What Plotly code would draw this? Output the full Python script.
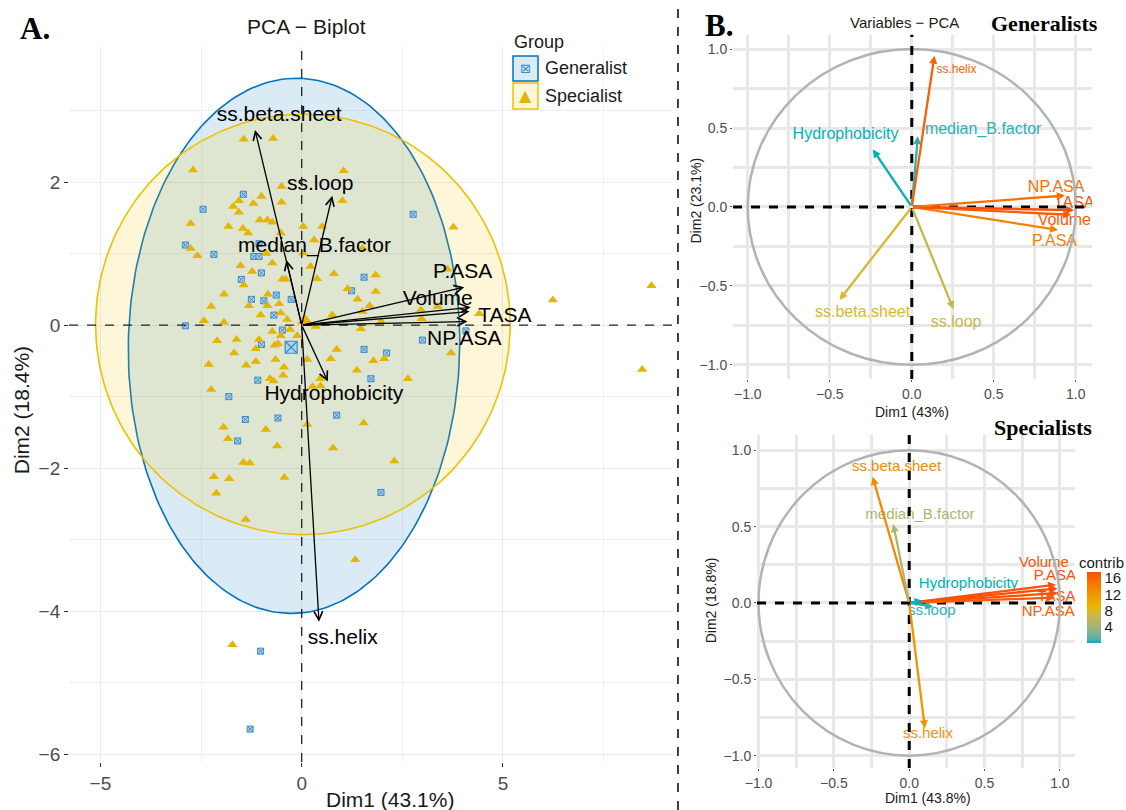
import numpy as np
import plotly.graph_objects as go

# ---------------- Panel A : individuals ----------------
spec_x = [-1.44, -0.71, -2.70, -1.00, -0.50, -1.56, -1.20, -0.50, -1.70, -1.56, -1.04, -0.85, -0.73, -2.76,
          -1.82, -1.46, -1.33, -0.52, 0.04, -2.76, -2.59, -0.88, -0.73, -1.52,
          1.04, 1.01, 3.77, 0.51, 0.31, 0.04, 1.51, 0.22, 3.62,
          -1.23, -1.44, -0.48, -0.40, -1.93, -0.84, -0.56, -2.25, -1.31, -0.85, -0.52, -1.02, -2.43, -1.93,
          -0.36, -0.73, -0.29, -0.11, -0.52, -2.10, -1.62, -1.06, -0.67, -0.59, -1.14, -1.68, -0.65, -2.31,
          -1.38, -1.14, -0.44, -0.46, -0.79, -0.70, -2.25,
          0.38, 0.80, 1.84, 1.14, 1.84, 1.39, 1.69, 1.51, 0.76, 1.97, 2.96, 2.98, 3.38, 4.41, 1.47, 0.35,
          3.71, 0.87, 0.72, 0.14, 2.05, 1.78, 1.37, 2.64, 0.46, 0.27, 0.47,
          -1.94, -0.89, 0.14, 1.54, -1.83, -0.61, 0.78, -1.45, -1.29, 2.30, -2.18, -1.80, -0.43, -2.12,
          -1.39, 1.33, -1.72,
          8.69, 6.24, 8.46]
spec_y = [2.60, 2.61, 2.17, 1.80, 1.94, 1.74, 1.70, 1.72, 1.66, 1.58, 1.47, 1.47, 1.44, 1.42,
          1.38, 1.35, 1.29, 1.29, 1.38, 1.07, 0.97, 1.00, 0.87, 0.83,
          2.16, 1.74, 1.37, 1.38, 1.19, 1.01, 1.07, 0.82, 0.78,
          0.75, 0.56, 0.64, 0.64, 0.43, 0.43, 0.30, 0.26, 0.27, 0.27, 0.17, 0.14, 0.06, 0.04,
          0.08, -0.09, -0.06, -0.15, -0.15, -0.22, -0.20, -0.20, -0.28, -0.26, -0.33, -0.39, -0.48, -0.55,
          -0.56, -0.51, -0.59, -0.70, -0.75, -0.78, -0.90,
          0.65, 0.72, 0.70, 0.51, 0.47, 0.36, 0.27, 0.19, 0.14, 0.05, 0.21, 0.09, 0.26, 0.16, -0.05, -0.02,
          -0.39, -0.34, -0.47, -0.48, -0.47, -0.50, -0.63, -0.75, -0.75, -0.86, -0.85,
          -1.43, -1.46, -1.39, -1.37, -1.59, -1.69, -1.72, -1.92, -1.93, -1.90, -2.12, -2.15, -2.13, -2.35,
          -2.72, -3.28, -4.47,
          0.55, 0.35, -0.62]

gen_x = [-1.45, -2.45, -2.89, -2.18, -1.06, -1.19, -1.06, 2.77, -1.00, -1.50, -0.63, -1.25, -0.94, -0.26,
         -0.69, -2.89, -0.48, -1.00, -1.09, -1.81, 1.55, 1.24, 4.08, 3.00, 1.55, 2.11, 1.72, 0.87,
         -1.40, -0.59, -1.59, 1.97, -1.02, -1.28]
gen_y = [1.83, 1.62, 1.12, 0.99, 1.14, 0.96, 0.96, 1.55, 0.73, 0.64, 0.42, 0.36, 0.34, 0.36,
         0.14, -0.01, -0.07, -0.27, -0.77, -1.00, 0.67, 0.48, -0.08, -0.21, -0.34, -0.39, -0.75, -1.26,
         -1.32, -1.30, -1.62, -2.34, -4.56, -5.65]

group_names = ["Generalist", "Specialist"]
mean_x = [-0.26, 0.08]
mean_y = [-0.31, 0.06]

# confidence ellipses (centre, semi-axes, rotation in degrees)
ell_cx = [-0.19, 0.03]
ell_cy = [-0.29, 0.01]
ell_rx = [4.12, 5.15]
ell_ry = [3.74, 2.94]
ell_rot = [4.6, 0.0]

var_names = ["P.ASA", "Volume", "TASA", "NP.ASA", "ss.beta.sheet", "ss.loop",
             "median_B.factor", "Hydrophobicity", "ss.helix"]
bi_x = [4.04, 4.20, 4.17, 4.12, -1.16, 0.76, -0.38, 0.65, 0.43]
bi_y = [0.53, 0.25, 0.19, 0.05, 2.73, 1.81, 0.91, -0.79, -4.15]
bi_lab_x = [4.00, 3.38, 5.05, 4.04, -0.56, 0.46, 0.32, 0.80, 1.02]
bi_lab_y = [0.73, 0.36, 0.12, -0.21, 2.93, 1.96, 1.09, -0.98, -4.39]

# ---------------- Panel B : variables ----------------
gen_var_x = [0.892, 0.972, 0.990, 0.933, -0.441, 0.254, 0.037, -0.238, 0.138]
gen_var_y = [-0.146, -0.050, -0.020, 0.072, -0.589, -0.648, 0.449, 0.364, 0.958]
gen_lab_x = [0.87, 0.93, 0.99, 0.88, -0.30, 0.27, 0.435, -0.404, 0.272]
gen_lab_y = [-0.22, -0.09, 0.02, 0.12, -0.674, -0.733, 0.487, 0.453, 0.869]

spe_var_x = [0.985, 0.975, 0.985, 0.965, -0.243, 0.160, -0.106, 0.090, 0.104]
spe_var_y = [0.095, 0.120, 0.065, 0.035, 0.826, -0.025, 0.517, 0.015, -0.820]
spe_lab_x = [0.967, 0.894, 0.978, 0.923, -0.084, 0.150, 0.071, 0.393, 0.124]
spe_lab_y = [0.176, 0.262, 0.037, -0.063, 0.887, -0.057, 0.572, 0.124, -0.863]

contrib_ticks = [4, 8, 12, 16]

GRAD = ["#00AFBB", "#E7B800", "#FC4E07"]
BLUE, YELLOW = "#0073C2", "#EFC000"
SANS = "Liberation Sans, Arial, sans-serif"
SERIF = "Liberation Serif, Times New Roman, serif"


# ---- colour helpers: gradient interpolated in CIE Lab (like ggplot2) ----
def _hex2rgb(h):
    h = h.lstrip("#")
    return np.array([int(h[i:i + 2], 16) for i in (0, 2, 4)]) / 255.0


def _rgb2lab(c):
    c = np.where(c > 0.04045, ((c + 0.055) / 1.055) ** 2.4, c / 12.92)
    M = np.array([[0.4124, 0.3576, 0.1805], [0.2126, 0.7152, 0.0722], [0.0193, 0.1192, 0.9505]])
    xyz = M @ c / np.array([0.95047, 1.0, 1.08883])
    f = np.where(xyz > 0.008856, np.cbrt(xyz), 7.787 * xyz + 16 / 116)
    return np.array([116 * f[1] - 16, 500 * (f[0] - f[1]), 200 * (f[1] - f[2])])


def _lab2hex(lab):
    fy = (lab[0] + 16) / 116
    fx = fy + lab[1] / 500
    fz = fy - lab[2] / 200
    f = np.array([fx, fy, fz])
    xyz = np.where(f ** 3 > 0.008856, f ** 3, (f - 16 / 116) / 7.787) * np.array([0.95047, 1.0, 1.08883])
    Mi = np.array([[3.2406, -1.5372, -0.4986], [-0.9689, 1.8758, 0.0415], [0.0557, -0.2040, 1.0570]])
    c = Mi @ xyz
    c = np.where(c > 0.0031308, 1.055 * np.clip(c, 0, None) ** (1 / 2.4) - 0.055, 12.92 * c)
    c = np.clip(np.round(c * 255), 0, 255).astype(int)
    return "#%02X%02X%02X" % tuple(c)


_LABS = [_rgb2lab(_hex2rgb(h)) for h in GRAD]


def grad_colour(f):
    f = min(max(f, 0.0), 1.0)
    if f <= 0.5:
        a, b, u = _LABS[0], _LABS[1], f / 0.5
    else:
        a, b, u = _LABS[1], _LABS[2], (f - 0.5) / 0.5
    return _lab2hex(a + (b - a) * u)


CSCALE = [[float(s), grad_colour(s)] for s in np.linspace(0, 1, 21)]


def contrib(xs, ys):
    sq = np.array(xs) ** 2 + np.array(ys) ** 2
    return 100 * sq / sq.sum()


def colours(c):
    lo, hi = c.min(), c.max()
    return [grad_colour((v - lo) / (hi - lo)) for v in c]


fig = go.Figure()

# ellipses
t = np.linspace(0, 2 * np.pi, 241)
for i, (col, fill) in enumerate([(BLUE, "rgba(0,115,194,0.14)"), (YELLOW, "rgba(239,192,0,0.15)")]):
    th = np.deg2rad(ell_rot[i])
    ex = ell_cx[i] + ell_rx[i] * np.cos(t) * np.cos(th) - ell_ry[i] * np.sin(t) * np.sin(th)
    ey = ell_cy[i] + ell_rx[i] * np.cos(t) * np.sin(th) + ell_ry[i] * np.sin(t) * np.cos(th)
    fig.add_trace(go.Scatter(x=ex, y=ey, mode="lines", fill="toself", fillcolor=fill,
                             line=dict(color=col, width=1.6), hoverinfo="skip", showlegend=False,
                             xaxis="x", yaxis="y"))

fig.add_trace(go.Scatter(x=gen_x, y=gen_y, mode="markers", name="Generalist", showlegend=False,
                         marker=dict(symbol="square-x", size=6, color="#B5D3EC",
                                     line=dict(color="#3A8BC9", width=1)), xaxis="x", yaxis="y"))
fig.add_trace(go.Scatter(x=spec_x, y=spec_y, mode="markers", name="Specialist", showlegend=False,
                         marker=dict(symbol="triangle-up", size=9, color="#E3B505"), xaxis="x", yaxis="y"))
fig.add_trace(go.Scatter(x=[mean_x[0]], y=[mean_y[0]], mode="markers", showlegend=False,
                         marker=dict(symbol="square-x", size=12, color="#B5D3EC",
                                     line=dict(color="#3A8BC9", width=1.2)), xaxis="x", yaxis="y"))
fig.add_trace(go.Scatter(x=[mean_x[1]], y=[mean_y[1]], mode="markers", showlegend=False,
                         marker=dict(symbol="triangle-up", size=14, color="#E3B505"), xaxis="x", yaxis="y"))
fig.add_trace(go.Scatter(x=bi_lab_x, y=bi_lab_y, text=var_names, mode="text", showlegend=False,
                         textfont=dict(family=SANS, size=21, color="black"), xaxis="x", yaxis="y"))

annotations = []
for xe, ye in zip(bi_x, bi_y):
    annotations.append(dict(x=xe, y=ye, ax=0, ay=0, xref="x", yref="y", axref="x", ayref="y",
                            showarrow=True, arrowhead=5, arrowsize=1.3, arrowwidth=1.3,
                            arrowcolor="black", text=""))

# Panel B generalists
gc = contrib(gen_var_x, gen_var_y)
gcol = colours(gc)
fig.add_trace(go.Scatter(x=gen_lab_x, y=gen_lab_y, text=var_names, mode="text", showlegend=False,
                         textfont=dict(family=SANS, size=[16, 16, 16, 16, 16, 16, 16, 16, 12], color=gcol),
                         xaxis="x2", yaxis="y2"))
for xe, ye, c in zip(gen_var_x, gen_var_y, gcol):
    annotations.append(dict(x=xe, y=ye, ax=0, ay=0, xref="x2", yref="y2", axref="x2", ayref="y2",
                            showarrow=True, arrowhead=2, arrowsize=0.7, arrowwidth=2.3,
                            arrowcolor=c, text=""))

# Panel B specialists
sc = contrib(spe_var_x, spe_var_y)
scol = colours(sc)
fig.add_trace(go.Scatter(x=spe_lab_x, y=spe_lab_y, text=var_names, mode="text", showlegend=False,
                         textfont=dict(family=SANS, size=15, color=scol), xaxis="x3", yaxis="y3"))
for xe, ye, c in zip(spe_var_x, spe_var_y, scol):
    annotations.append(dict(x=xe, y=ye, ax=0, ay=0, xref="x3", yref="y3", axref="x3", ayref="y3",
                            showarrow=True, arrowhead=2, arrowsize=0.7, arrowwidth=2.3,
                            arrowcolor=c, text=""))
fig.add_trace(go.Scatter(x=[None], y=[None], mode="markers", showlegend=False, xaxis="x3", yaxis="y3",
                         marker=dict(color=list(sc), cmin=float(sc.min()), cmax=float(sc.max()),
                                     colorscale=CSCALE, showscale=True,
                                     colorbar=dict(x=0.9654, xanchor="left", y=0.2062, yanchor="bottom",
                                                   len=0.0877, lenmode="fraction", thickness=14, ypad=0,
                                                   xpad=0, outlinewidth=0, tickvals=contrib_ticks, ticks="",
                                                   tickfont=dict(family=SANS, size=15, color="#1a1a1a")))))

# text annotations
def txt(text, x, y, size, family=SANS, color="#1a1a1a", angle=0, xanchor="center", bold=False):
    return dict(text=f"<b>{text}</b>" if bold else text, x=x, y=y, xref="paper", yref="paper",
                showarrow=False, xanchor=xanchor, yanchor="middle", textangle=angle,
                font=dict(family=family, size=size, color=color))

annotations += [
    txt("A.", 0.031, 0.965, 31, SERIF, "black", bold=True),
    txt("PCA − Biplot", 0.2726, 0.9667, 21),
    txt("Dim1 (43.1%)", 0.3464, 0.0135, 21),
    txt("Dim2 (18.4%)", 0.019, 0.494, 21, angle=-90),
    txt("Group", 0.4547, 0.948, 18, xanchor="left"),
    txt("Generalist", 0.4822, 0.916, 18, xanchor="left"),
    txt("Specialist", 0.4822, 0.8815, 18, xanchor="left"),
    txt("⊠", 0.4667, 0.9155, 13, "DejaVu Sans", "#3A8BC9"),
    txt("▲", 0.4667, 0.8815, 16, "DejaVu Sans", "#E3B505"),
    txt("B.", 0.6385, 0.968, 31, SERIF, "black", bold=True),
    txt("Variables − PCA", 0.8037, 0.9728, 15),
    txt("Generalists", 0.928, 0.9716, 22, SERIF, "black", bold=True),
    txt("Specialists", 0.9263, 0.4728, 22, SERIF, "black", bold=True),
    txt("Dim1 (43%)", 0.81, 0.491, 14),
    txt("Dim2 (23.1%)", 0.6185, 0.753, 14, angle=-90),
    txt("Dim1 (43.8%)", 0.824, 0.0148, 14),
    txt("Dim2 (18.8%)", 0.6315, 0.259, 14, angle=-90),
    txt("contrib", 0.9785, 0.3050, 15),
]

shapes = [
    # separator
    dict(type="line", xref="paper", yref="paper", x0=0.6021, x1=0.6021, y0=0, y1=1,
         line=dict(color="black", width=1.5, dash="dash")),
    # legend keys
    dict(type="rect", xref="paper", yref="paper", x0=0.4556, x1=0.4778, y0=0.9, y1=0.931,
         fillcolor="rgba(0,115,194,0.14)", line=dict(color=BLUE, width=1.5)),
    dict(type="rect", xref="paper", yref="paper", x0=0.4556, x1=0.4778, y0=0.8654, y1=0.8975,
         fillcolor="rgba(239,192,0,0.15)", line=dict(color=YELLOW, width=1.5)),
    # panel A zero lines
    dict(type="line", xref="x", yref="y domain", x0=0, x1=0, y0=0, y1=1, layer="above",
         line=dict(color="#222222", width=1.3, dash="dash")),
    dict(type="line", xref="x domain", yref="y", x0=0, x1=1.01, y0=0, y1=0, layer="above",
         line=dict(color="#222222", width=1.3, dash="dash")),
]
for ax in ["2", "3"]:
    shapes += [
        dict(type="circle", xref="x" + ax, yref="y" + ax, x0=-1, x1=1, y0=-1, y1=1, layer="above",
             line=dict(color="#B3B3B3", width=2.5)),
        dict(type="line", xref="x" + ax, yref=f"y{ax} domain", x0=0, x1=0, y0=0, y1=1, layer="above",
             line=dict(color="black", width=3, dash="dash")),
        dict(type="line", xref=f"x{ax} domain", yref="y" + ax, x0=0, x1=1, y0=0, y1=0, layer="above",
             line=dict(color="black", width=3, dash="dash")),
    ]

axA = dict(showgrid=True, gridcolor="#EBEBEB", gridwidth=1.2, zeroline=False, showline=False,
           ticks="outside", ticklen=4, tickcolor="#333333",
           tickfont=dict(family=SANS, size=19, color="#4D4D4D"))
axB = dict(showgrid=True, gridcolor="#E8E8E8", gridwidth=2.5, zeroline=False, showline=False,
           ticks="outside", ticklen=2, tickcolor="#555555", tickformat=".1f",
           tickvals=[-1, -0.5, 0, 0.5, 1],
           minor=dict(dtick=0.25, tick0=0, showgrid=True, gridcolor="#E8E8E8", gridwidth=2.5),
           tickfont=dict(family=SANS, size=14, color="#4D4D4D"))

fig.update_layout(
    width=1126, height=810, margin=dict(l=0, r=0, t=0, b=0, autoexpand=False),
    paper_bgcolor="white", plot_bgcolor="white", showlegend=False,
    xaxis=dict(axA, domain=[0.0613, 0.5968], range=[-5.78, 9.2], tickvals=[-5, 0, 5],
               minor=dict(dtick=2.5, tick0=0, showgrid=True, gridcolor="#EFEFEF", gridwidth=1), anchor="y"),
    yaxis=dict(axA, domain=[0.0593, 0.942], range=[-6.11, 3.89], tickvals=[-6, -4, -2, 0, 2],
               minor=dict(dtick=1, tick0=0, showgrid=True, gridcolor="#EFEFEF", gridwidth=1), anchor="x"),
    xaxis2=dict(axB, domain=[0.651, 0.970], range=[-1.09, 1.10], anchor="y2"),
    yaxis2=dict(axB, domain=[0.532, 0.957], range=[-1.09, 1.09], anchor="x2"),
    xaxis3=dict(axB, domain=[0.6723, 0.9547], range=[-1.01, 1.10], anchor="y3"),
    yaxis3=dict(axB, domain=[0.052, 0.463], range=[-1.08, 1.10], anchor="x3"),
    annotations=annotations, shapes=shapes,
)

fig.write_html("out.html")
